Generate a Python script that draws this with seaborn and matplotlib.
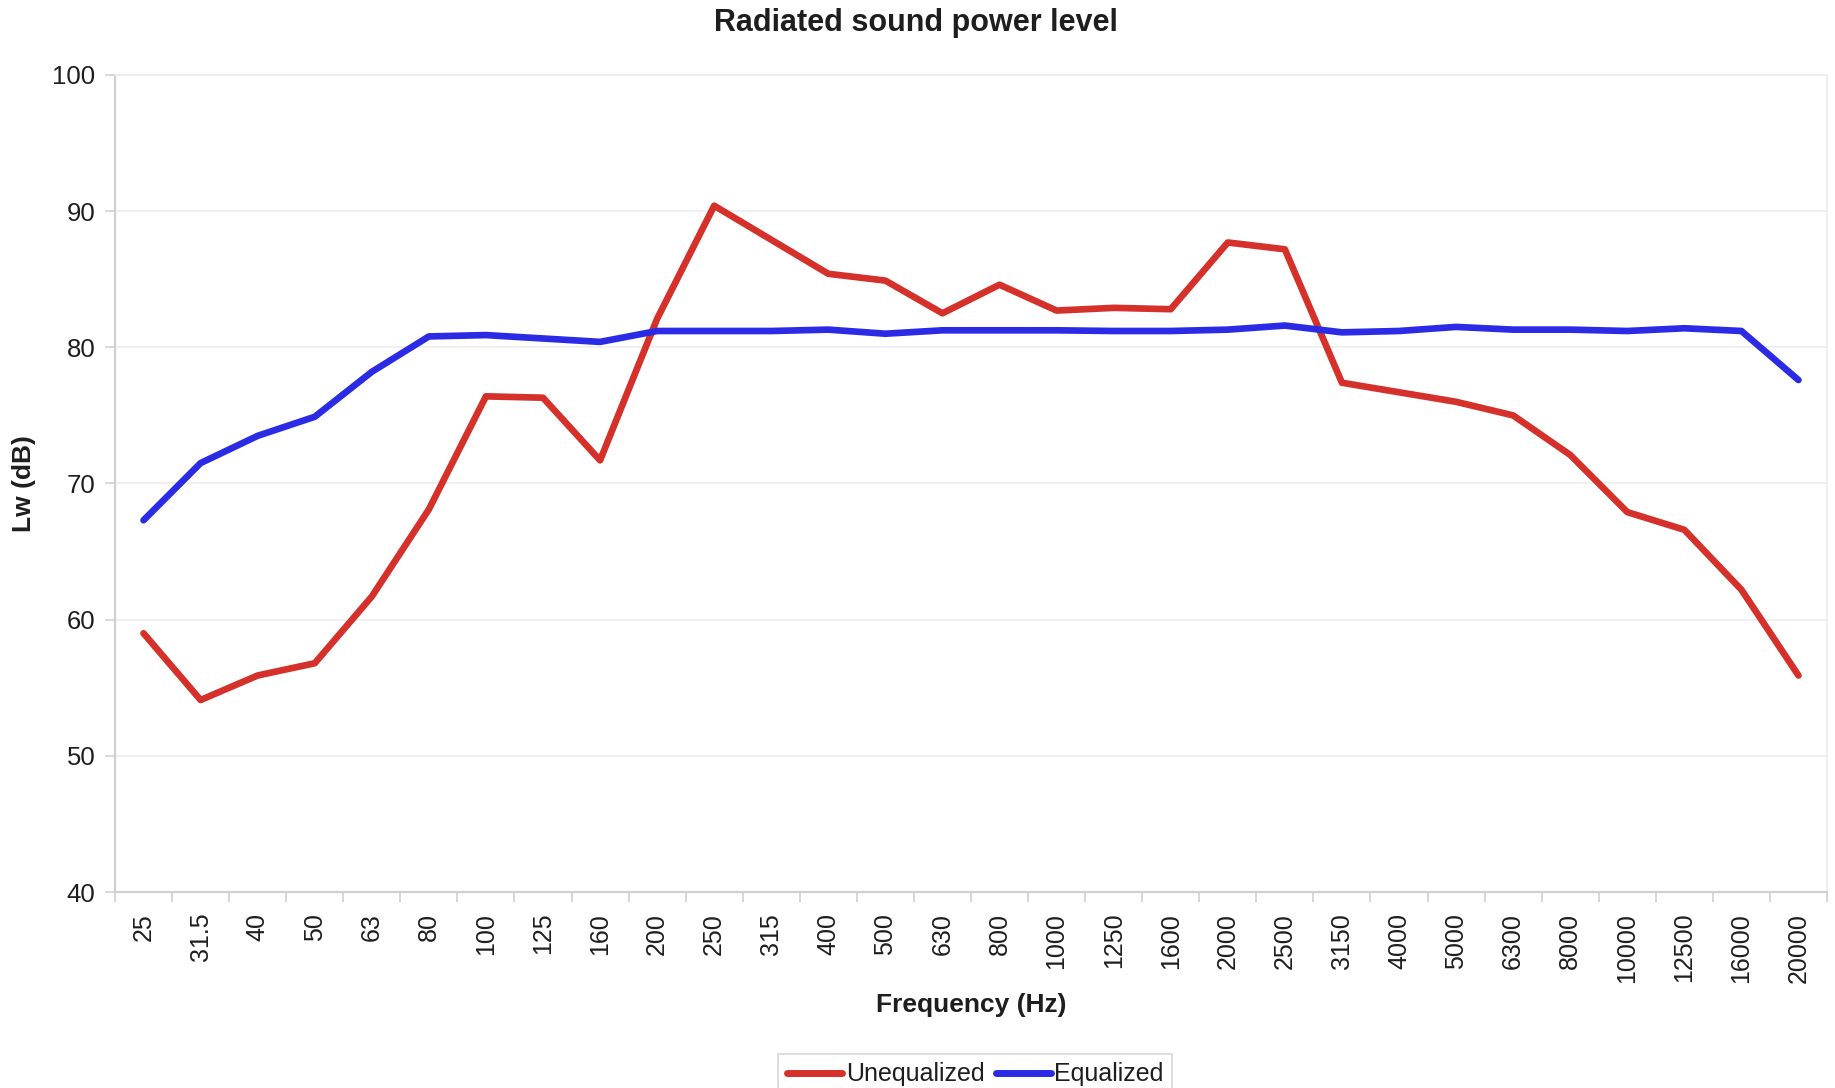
import matplotlib
matplotlib.use("Agg")
import matplotlib.pyplot as plt
import matplotlib.ticker as mticker
import numpy as np
import pandas as pd
import seaborn as sns

# ── Data ──────────────────────────────────────────────────────────────────
FREQS = ["25", "31.5", "40", "50", "63", "80", "100", "125", "160", "200",
         "250", "315", "400", "500", "630", "800", "1000", "1250", "1600", "2000",
         "2500", "3150", "4000", "5000", "6300", "8000", "10000", "12500", "16000", "20000"]

UNEQUALIZED = [59.0, 54.1, 55.9, 56.8, 61.7, 68.1, 76.4, 76.3, 71.7, 82.1,
               90.4, 87.9, 85.4, 84.9, 82.5, 84.6, 82.7, 82.9, 82.8, 87.7,
               87.2, 77.4, 76.7, 76.0, 75.0, 72.1, 67.9, 66.6, 62.2, 55.9]

EQUALIZED = [67.3, 71.5, 73.5, 74.9, 78.2, 80.8, 80.9, 80.65, 80.4, 81.2,
             81.2, 81.2, 81.3, 81.0, 81.25, 81.25, 81.25, 81.2, 81.2, 81.3,
             81.6, 81.1, 81.2, 81.5, 81.3, 81.3, 81.2, 81.4, 81.2, 77.6]

SERIES = ["Unequalized", "Equalized"]
COLORS = {"Unequalized": "#D5302A", "Equalized": "#2B2BE6"}
YTICKS = [40, 50, 60, 70, 80, 90, 100]

TEXT_COLOR = "#1e1e1e"

# ── Long-form table ───────────────────────────────────────────────────────
df = pd.DataFrame({"Frequency": FREQS, "Unequalized": UNEQUALIZED, "Equalized": EQUALIZED})
long = df.melt(id_vars="Frequency", value_vars=SERIES, var_name="Series", value_name="Lw")

sns.set_theme(style="white")
plt.rcParams["font.family"] = ["Liberation Sans", "DejaVu Sans"]

fig = plt.figure(figsize=(18.35, 10.88), dpi=100)
ax = fig.add_axes([115 / 1835, 1 - 892 / 1088, (1827 - 115) / 1835, (892 - 75) / 1088])

sns.lineplot(data=long, x="Frequency", y="Lw", hue="Series", hue_order=SERIES,
             palette=COLORS, linewidth=4.8, sort=False, ax=ax, legend=False)

ax.set_xlim(-0.5, len(FREQS) - 0.5)
ax.set_ylim(40, 100)
ax.set_yticks(YTICKS)

# labels on categories, tick marks between categories
ax.set_xticks(np.arange(len(FREQS)))
ax.set_xticklabels(FREQS, rotation=90, va="top", ha="center")
ax.xaxis.set_minor_locator(mticker.FixedLocator(np.arange(-0.5, len(FREQS), 1.0)))
ax.tick_params(axis="x", which="major", length=0, pad=15, labelsize=18, labelcolor=TEXT_COLOR)
ax.tick_params(axis="x", which="minor", length=7, width=1.2, color="#d0d0d0", bottom=True)
ax.tick_params(axis="y", which="major", length=7, width=1.2, color="#d0d0d0",
               pad=7, labelsize=18.5, labelcolor=TEXT_COLOR, left=True)

ax.grid(axis="y", color="#eeeeee", linewidth=1.2)
ax.grid(axis="x", visible=False)
for side in ["left", "bottom"]:
    ax.spines[side].set_color("#d0d0d0")
    ax.spines[side].set_linewidth(1.6)
for side in ["top", "right"]:
    ax.spines[side].set_color("#ececec")
    ax.spines[side].set_linewidth(1.2)

ax.set_xlabel("Frequency (Hz)", fontsize=19, fontweight="bold", color=TEXT_COLOR)
ax.xaxis.set_label_coords(0.5, -0.124)
ax.set_ylabel("Lw (dB)", fontsize=19, fontweight="bold", color=TEXT_COLOR)
ax.yaxis.set_label_coords(-0.046, 0.5)

fig.text(0.499, 1 - 23 / 1088, "Radiated sound power level", ha="center", va="center",
         fontsize=22, fontweight="bold", color=TEXT_COLOR)

handles = [plt.Line2D([], [], color=COLORS[s], linewidth=5) for s in SERIES]
leg = fig.legend(handles, SERIES, loc="upper center", bbox_to_anchor=(0.5315, 1 - 1041 / 1088),
                 ncol=2, fontsize=18, frameon=True, fancybox=False, handlelength=2.2,
                 handletextpad=0.15, columnspacing=0.45, borderpad=0.35)
leg.get_frame().set_edgecolor("#cccccc")
leg.get_frame().set_linewidth(1.2)
for t in leg.get_texts():
    t.set_color(TEXT_COLOR)

fig.savefig("out.png", dpi=100)
